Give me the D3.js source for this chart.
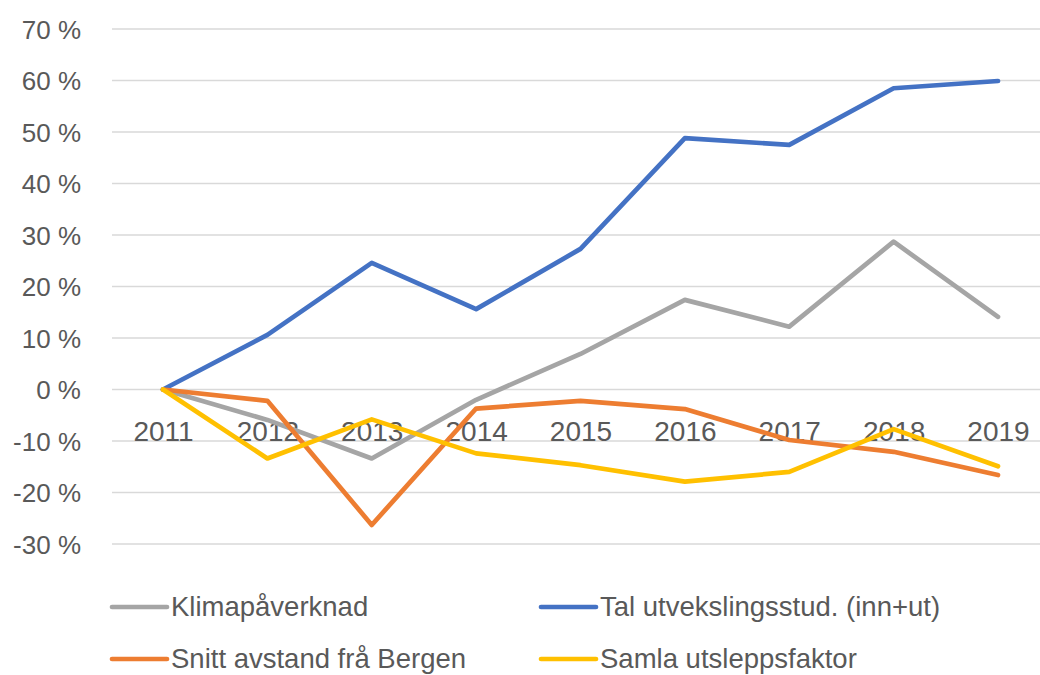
<!DOCTYPE html>
<html>
<head>
<meta charset="utf-8">
<script src="https://cdn.jsdelivr.net/npm/d3@7"></script>
<style>
  html, body { margin: 0; background: #fff; overflow: hidden; }
  svg { display: block; }
  text { font-family: "Liberation Sans", Arial, sans-serif; fill: #595959; }
</style>
</head>
<body>
<div id="chart"></div>
<script>
const w = 1040;
const h = 675;

const years = ["2011", "2012", "2013", "2014", "2015", "2016", "2017", "2018", "2019"];
const yTicks = [-0.3, -0.2, -0.1, 0, 0.1, 0.2, 0.3, 0.4, 0.5, 0.6, 0.7];

const seriesNames = ["Klimapåverknad", "Tal utvekslingsstud. (inn+ut)", "Snitt avstand frå Bergen", "Samla utsleppsfaktor"];
const seriesColors = ["#A5A5A5", "#4472C4", "#ED7D31", "#FFC000"];

const klima = [0, -0.059, -0.134, -0.020, 0.069, 0.174, 0.122, 0.287, 0.141];
const utveksling = [0, 0.106, 0.246, 0.156, 0.273, 0.488, 0.475, 0.585, 0.599];
const avstand = [0, -0.022, -0.263, -0.037, -0.022, -0.038, -0.098, -0.121, -0.166];
const utslepp = [0, -0.134, -0.058, -0.124, -0.147, -0.179, -0.160, -0.077, -0.149];

const allSeries = [klima, utveksling, avstand, utslepp];

const svg = d3.select("#chart")
  .append("svg")
  .attr("width", w)
  .attr("height", h);

const xScale = d3.scalePoint()
  .domain(years)
  .range([163, 998]);

const yScale = d3.scaleLinear()
  .domain([-0.3, 0.7])
  .range([544, 29]);

// gridlines
svg.append("g")
  .selectAll("line")
  .data(yTicks)
  .enter()
  .append("line")
  .attr("x1", 112)
  .attr("x2", w)
  .attr("y1", d => yScale(d))
  .attr("y2", d => yScale(d))
  .style("stroke", "#d9d9d9")
  .style("stroke-width", "1.5px");

// y axis labels
const yAxis = d3.axisLeft(yScale)
  .tickValues(yTicks)
  .tickSize(0)
  .tickPadding(0)
  .tickFormat(d => Math.round(d * 100) + " %");

svg.append("g")
  .attr("transform", "translate(81, 0)")
  .call(yAxis)
  .call(g => g.select(".domain").remove())
  .call(g => g.selectAll("text")
    .style("font-size", "26px")
    .style("font-family", "'Liberation Sans', Arial, sans-serif")
    .attr("fill", "#595959")
    .attr("dy", "0.35em"));

// x axis labels, just below the 0 line
const xAxis = d3.axisBottom(xScale)
  .tickSize(0)
  .tickPadding(0);

svg.append("g")
  .attr("transform", `translate(0, ${yScale(0)})`)
  .call(xAxis)
  .call(g => g.select(".domain").remove())
  .call(g => g.selectAll("text")
    .style("font-size", "28px")
    .style("font-family", "'Liberation Sans', Arial, sans-serif")
    .attr("fill", "#595959")
    .attr("y", 0)
    .attr("dy", "1.85em"));

// lines
const line = d3.line()
  .x((d, i) => xScale(years[i]))
  .y(d => yScale(d));

svg.append("g")
  .selectAll("path")
  .data(allSeries)
  .enter()
  .append("path")
  .attr("d", d => line(d))
  .style("fill", "none")
  .style("stroke", (d, i) => seriesColors[i])
  .style("stroke-width", "4.7px")
  .style("stroke-linejoin", "round")
  .style("stroke-linecap", "round");

// legend
const legendPos = [[112, 607], [541, 607], [112, 659], [541, 659]];

const legend = svg.append("g").attr("id", "legend");

const items = legend.selectAll("g")
  .data(seriesNames)
  .enter()
  .append("g")
  .attr("transform", (d, i) => `translate(${legendPos[i][0]}, ${legendPos[i][1]})`);

items.append("line")
  .attr("x1", 0)
  .attr("x2", 55)
  .attr("y1", 0)
  .attr("y2", 0)
  .style("stroke", (d, i) => seriesColors[i])
  .style("stroke-width", "4.7px")
  .style("stroke-linecap", "round");

items.append("text")
  .attr("x", 59)
  .attr("y", 0)
  .attr("dy", "0.33em")
  .style("font-size", "27.5px")
  .text(d => d);
</script>
</body>
</html>
